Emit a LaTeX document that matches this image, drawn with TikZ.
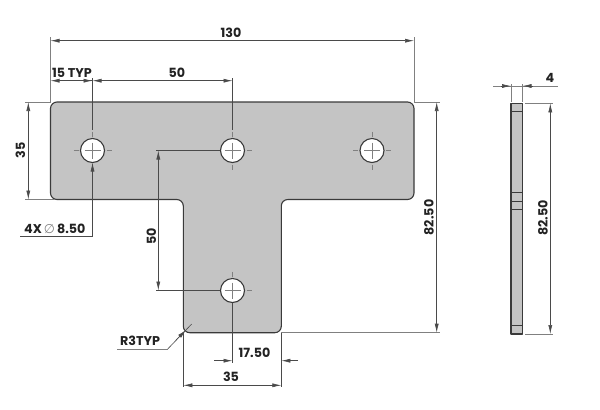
\documentclass[tikz,border=0pt]{standalone}
\usepackage{fontspec}
\setmainfont{Poppins}
\newfontfamily\symfont{DejaVu Sans}
\usetikzlibrary{arrows.meta,calc}
\definecolor{platefill}{HTML}{C4C4C4}
\definecolor{edgecol}{HTML}{3A3A3A}
\definecolor{dimcol}{HTML}{4A4A4A}
\definecolor{extcol}{HTML}{808080}
\definecolor{textcol}{HTML}{222222}
\tikzset{
  plate/.style={draw=edgecol,fill=platefill,line width=1.1bp,line join=round},
  inner edge/.style={draw=edgecol,line width=0.7bp},
  holeshape/.style={draw=edgecol,fill=white,line width=1.1bp},
  crossline/.style={draw=extcol,line width=0.6bp},
  centermark/.style={draw=extcol,line width=0.8bp},
  dimline/.style={draw=dimcol,line width=0.6bp},
  extline/.style={draw=extcol,line width=0.6bp},
  tip/.style={-{Latex[length=9bp,width=4bp]}},
  bothtip/.style={{Latex[length=9bp,width=4bp]}-{Latex[length=9bp,width=4bp]}},
  dimtext/.style={inner sep=0pt,text=textcol,font=\fontsize{12.7bp}{14bp}\selectfont\bfseries}
}
\newcommand{\holeat}[1]{%
  \draw[holeshape] (#1) circle (12);
  \draw[crossline] ($(#1)+(-8,0)$) -- ($(#1)+(8,0)$);
  \draw[crossline] ($(#1)+(0,-8)$) -- ($(#1)+(0,8)$);
  \draw[centermark] ($(#1)+(-19,0)$) -- ($(#1)+(-14,0)$);
  \draw[centermark] ($(#1)+(14,0)$) -- ($(#1)+(19,0)$);
  \draw[centermark] ($(#1)+(0,-19)$) -- ($(#1)+(0,-14)$);
  \draw[centermark] ($(#1)+(0,14)$) -- ($(#1)+(0,19)$);
}
\begin{document}
\begin{tikzpicture}[x=1bp,y=-1bp]
\useasboundingbox (0,0) rectangle (600,409);
% key points
\coordinate (h1) at (92.5,150.5);
\coordinate (h2) at (232.5,150.5);
\coordinate (h3) at (372,150.5);
\coordinate (h4) at (232.5,290.5);
\coordinate (tl) at (50.5,102);
\coordinate (tr) at (414,102);
\coordinate (sl) at (183.3,332.7);
\coordinate (sr) at (281.3,332.7);
% plate
\draw[plate,rounded corners=6.5bp] (50.5,102) -- (414,102) -- (414,199.5) -- (281.3,199.5) -- (281.3,332.7) -- (183.3,332.7) -- (183.3,199.5) -- (50.5,199.5) -- cycle;
\holeat{h1}\holeat{h2}\holeat{h3}\holeat{h4}
% side view
\draw[plate] (511,103.3) rectangle (522.7,334);
\foreach \yy in {111.7,192.3,201,209.7,325.3}
  \draw[inner edge] (511,\yy) -- (522.7,\yy);
% 130
\draw[extline] (tl) -- (50.5,37);
\draw[extline] (tr) -- (414,37);
\draw[dimline,bothtip] (50.5,40.7) -- (414,40.7);
\node[dimtext] (t130) at (231,32.5) {130};
% 15 TYP / 50
\draw[dimline] (92.5,78) -- (92.5,130);
\draw[dimline] (232.5,78) -- (232.5,130);
\draw[dimline,{Latex[length=9bp,width=4bp]}-] (50.5,80.7) -- (92.5,80.7);
\draw[dimline,bothtip] (92.5,80.7) -- (232.5,80.7);
\draw[dimline,-{Latex[length=9bp,width=4bp]}] (75,80.7) -- (92.5,80.7);
\node[dimtext] (t15) at (72,72.7) {15 TYP};
\node[dimtext] (t50a) at (177,72.7) {50};
% 35 left
\draw[extline] (25,102) -- (50.5,102);
\draw[extline] (25,199.5) -- (55,199.5);
\draw[dimline,bothtip] (28.3,102) -- (28.3,199.5);
\node[dimtext,rotate=90] (t35a) at (20.5,150.5) {35};
% 4X dia
\draw[dimline] (20,236) -- (92.5,236) coordinate (lead4x);
\draw[dimline,tip] (lead4x) -- (92.5,162.5);
\node[dimtext,anchor=west] (t4x) at (24,229) {4X\,{\symfont\mdseries\color{extcol}∅}\,8.50};
% 50 vertical
\draw[dimline] (156,150.5) -- (220,150.5);
\draw[dimline] (156,290.5) -- (220,290.5);
\draw[dimline,bothtip] (158.3,150.5) -- (158.3,290.5);
\node[dimtext,rotate=90] (t50b) at (151.5,236) {50};
% R3TYP
\draw[extline] (117,349) -- (167.7,349);
\draw[dimline] (167.7,349) -- (191.7,324);
\draw[dimline,{Latex[length=9bp,width=4bp]}-] (186,330) -- (176,340);
\node[dimtext] (tr3) at (140,341) {R3TYP};
% 17.50
\draw[dimline] (232.5,302.5) -- (232.5,363);
\draw[dimline,tip] (214,360.7) -- (232.5,360.7);
\draw[dimline,tip] (298,360.7) -- (281.3,360.7);
\node[dimtext] (t17) at (254.5,352.7) {17.50};
% 35 bottom
\draw[dimline] (sl) -- (183.3,387);
\draw[dimline] (sr) -- (281.3,387);
\draw[dimline,bothtip] (183.3,385.3) -- (281.3,385.3);
\node[dimtext] (t35b) at (231,377) {35};
% 82.50 centre
\draw[extline] (tr) -- (440,102);
\draw[extline] (sr) -- (440,332.7);
\draw[dimline,bothtip] (436.7,102) -- (436.7,332.7);
\node[dimtext,rotate=90] (t82a) at (429,217.5) {82.50};
% side dims
\draw[extline] (511,84) -- (511,102);
\draw[extline] (522.5,84) -- (522.5,102);
\draw[extline] (493,86) -- (558,86);
\draw[dimline,tip] (501,86) -- (511,86);
\draw[dimline,tip] (533,86) -- (522.5,86);
\node[dimtext] (t4) at (550,78) {4};
\draw[extline] (525,103.3) -- (553,103.3);
\draw[extline] (525,334) -- (553,334);
\draw[dimline,bothtip] (550.3,103.3) -- (550.3,334);
\node[dimtext,rotate=90] (t82b) at (543,218) {82.50};
\end{tikzpicture}
\end{document}
